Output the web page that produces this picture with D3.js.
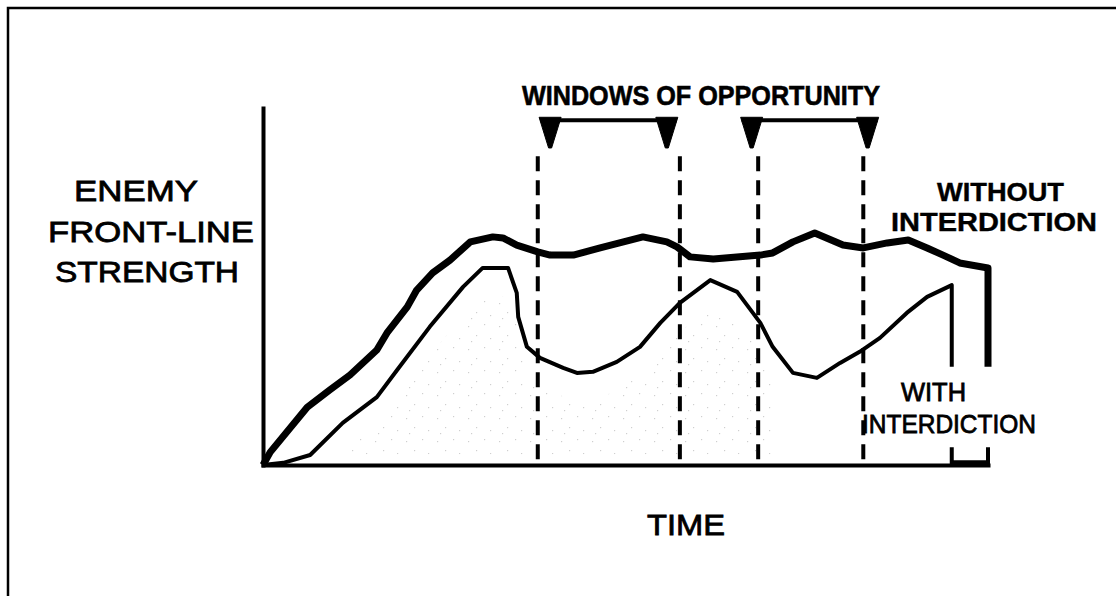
<!DOCTYPE html>
<html>
<head>
<meta charset="utf-8">
<script src="https://cdn.jsdelivr.net/npm/d3@7"></script>
<style>
  html, body { margin: 0; padding: 0; background: #fff; }
  svg { display: block; }
  text { font-family: "Liberation Sans", Arial, Helvetica, sans-serif; fill: #000; }
</style>
</head>
<body>
<svg id="chart" width="1116" height="596"></svg>
<script>
// ---- data (time 0..100, strength 0..100) ----
const withoutTime = [0, 1, 6.1, 9.2, 12, 15.7, 17.1, 19.9, 21.2, 23.4, 25.8, 28.6, 31.7, 33.1, 35, 37.9, 39.6, 42.8, 46.5, 52.4, 55.7, 57.1, 58.9, 62.1, 68.6, 70.3, 73.1, 76.1, 80, 82.8, 86.1, 89, 91.6, 93.8, 96.1, 100, 100];
const withoutStrength = [0, 3.6, 16.2, 21, 25.2, 32.2, 37, 44.3, 49, 53.8, 57.4, 62.5, 63.9, 63.6, 61.6, 59.7, 58.8, 58.8, 60.8, 63.9, 62.5, 61.1, 58.3, 57.7, 58.8, 59.4, 62.5, 65, 61.6, 60.8, 62.2, 63, 60.8, 58.8, 56.6, 55.2, 27.5];

const withTime = [0, 2.8, 6.5, 11, 15.7, 18.5, 23, 27.6, 30.3, 33.8, 35, 35.2, 36.4, 38.2, 41.4, 43.3, 45.5, 48.8, 52, 54.8, 57.5, 61.7, 65.4, 68.6, 70.3, 73.1, 76.4, 79.6, 82.3, 85.1, 88.8, 91.6, 95, 95];
const withStrength = [0, 0.6, 2.8, 11.8, 19, 26.6, 38.7, 49.9, 55.2, 55.2, 48.2, 41.5, 33.1, 30, 27.2, 25.8, 26.1, 28.9, 33.1, 39.8, 45.4, 51.8, 48.5, 39.8, 33.1, 25.8, 24.4, 28.6, 31.7, 35.6, 42.6, 47.1, 50.4, 27.5];

// windows of opportunity: bracket ends and dashed guide lines (time units)
const windowBrackets = [[39.6, 55.7], [67.4, 83.4]];
const windowGuides = [37.9, 57.5, 68.3, 82.8];
// final interdiction gap bracket on time axis
const interdictionGap = [95, 100];

// ---- drawing ----
const svg = d3.select("#chart");
const x = d3.scaleLinear().domain([0, 100]).range([263, 988]);
const y = d3.scaleLinear().domain([0, 100]).range([465, 108]);

svg.append("rect").attr("width", 1116).attr("height", 596).attr("fill", "#fff");

// outer frame (top and left)
svg.append("path")
  .attr("d", "M8,600 V8 H1120")
  .attr("fill", "none").attr("stroke", "#000").attr("stroke-width", 2.5);

// faint stipple pattern under the "with interdiction" curve
const defs = svg.append("defs");
const pat = defs.append("pattern").attr("id", "stip")
  .attr("patternUnits", "userSpaceOnUse").attr("width", 31).attr("height", 23);
[[3,4],[19,2],[11,13],[25,16],[6,19]].forEach(p => {
  pat.append("rect").attr("x", p[0]).attr("y", p[1]).attr("width", 1.2).attr("height", 1.2).attr("fill", "#bbb");
});
const areaPts = withTime.map((t, i) => [t, withStrength[i]]).filter(p => p[0] > 8 && p[0] < 72);
svg.append("path")
  .datum(areaPts)
  .attr("d", d3.area().x(d => x(d[0])).y0(y(3)).y1(d => y(d[1] - 8)))
  .attr("fill", "url(#stip)").attr("opacity", 0.7);

// axes
const yAxis = svg.append("g").attr("transform", `translate(${x(0)},0)`)
  .call(d3.axisLeft(y).ticks(0).tickSizeOuter(0));
const xAxis = svg.append("g").attr("transform", `translate(0,${y(0)})`)
  .call(d3.axisBottom(x).ticks(0).tickSizeOuter(0));
[yAxis, xAxis].forEach(g => g.select(".domain")
  .attr("stroke", "#000").attr("stroke-width", 4).attr("stroke-linecap", "square"));

// dashed guide lines
svg.selectAll(".guide").data(windowGuides).enter().append("line")
  .attr("class", "guide")
  .attr("x1", d => x(d)).attr("x2", d => x(d))
  .attr("y1", y(86.5)).attr("y2", y(0))
  .attr("stroke", "#000").attr("stroke-width", 4)
  .attr("stroke-dasharray", "15,9");

// window brackets with triangles
const barY = y(96.6), triTop = y(97.4), triApex = y(88.8);
windowBrackets.forEach(w => {
  svg.append("line")
    .attr("x1", x(w[0]) - 10).attr("x2", x(w[1]) + 10)
    .attr("y1", barY).attr("y2", barY)
    .attr("stroke", "#000").attr("stroke-width", 4);
  w.forEach(t => {
    const cx = x(t);
    svg.append("path")
      .attr("d", `M${cx - 11},${triTop} L${cx + 11},${triTop} L${cx + 1.5},${triApex} L${cx - 1.5},${triApex} Z`)
      .attr("fill", "#000").attr("stroke", "#000").attr("stroke-width", 1).attr("stroke-linejoin", "round");
  });
});

// curves
const line = d3.line().x(d => x(d[0])).y(d => y(d[1])).curve(d3.curveLinear);
svg.append("path")
  .datum(withTime.map((t, i) => [t, withStrength[i]]))
  .attr("d", line)
  .attr("fill", "none").attr("stroke", "#000").attr("stroke-width", 4)
  .attr("stroke-linejoin", "round").attr("stroke-linecap", "butt");
svg.append("path")
  .datum(withoutTime.map((t, i) => [t, withoutStrength[i]]))
  .attr("d", line)
  .attr("fill", "none").attr("stroke", "#000").attr("stroke-width", 7)
  .attr("stroke-linejoin", "round").attr("stroke-linecap", "butt");

// interdiction gap bracket on the time axis
svg.append("path")
  .attr("d", `M${x(interdictionGap[0])},${y(5)} V${y(0.8)} H${x(interdictionGap[1])} V${y(5)}`)
  .attr("fill", "none").attr("stroke", "#000").attr("stroke-width", 4);

// texts
function label(txt, xx, yy, size, len, weight, sw) {
  svg.append("text").attr("x", xx).attr("y", yy)
    .attr("font-size", size).attr("font-weight", weight || "normal")
    .attr("textLength", len).attr("lengthAdjust", "spacingAndGlyphs")
    .attr("stroke", "#000").attr("stroke-width", sw || 0)
    .text(txt);
}
label("ENEMY", 74, 201, 30, 124, "normal", 0.8);
label("FRONT-LINE", 48, 242, 30, 206, "normal", 0.8);
label("STRENGTH", 55, 282, 30, 184, "normal", 0.8);
label("TIME", 647, 535, 30, 78, "normal", 0.8);
label("WINDOWS OF OPPORTUNITY", 522, 105, 28, 358, "bold", 0.6);
label("WITHOUT", 937, 201, 26, 127, "bold", 0.4);
label("INTERDICTION", 891, 231, 26, 206, "bold", 0.4);
label("WITH", 901, 401, 26, 65, "normal", 0.8);
label("INTERDICTION", 862, 433, 26, 174, "normal", 0.8);
</script>
</body>
</html>
